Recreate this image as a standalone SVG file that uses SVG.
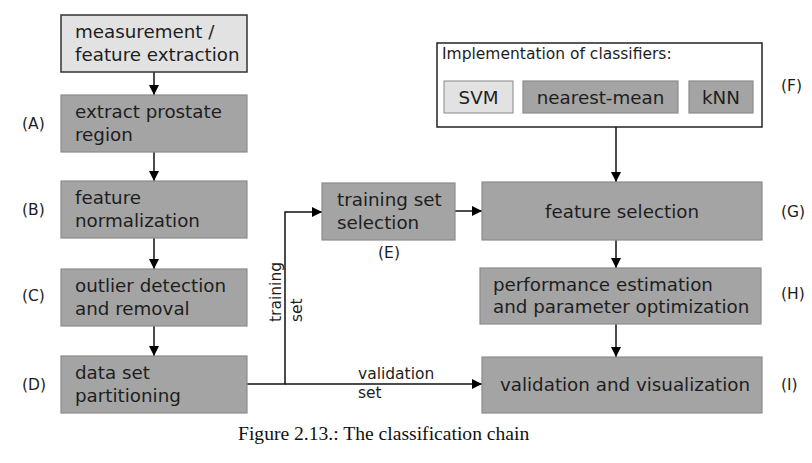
<svg xmlns="http://www.w3.org/2000/svg" width="812" height="463" viewBox="0 0 812 463">
<defs>
<style>
.box{fill:#a4a4a4;stroke:#8c8c8c;stroke-width:1.2}
.light{fill:#e2e2e2;stroke:#333;stroke-width:1.5}
.frame{fill:#fff;stroke:#222;stroke-width:1.5}
.lightsm{fill:#e2e2e2;stroke:#888;stroke-width:1}
.t{font-family:"DejaVu Sans",sans-serif;font-size:18.3px;fill:#1e1e1e}
.lbl{font-family:"DejaVu Sans",sans-serif;font-size:15.5px;fill:#1e1e1e}
.cap{font-family:"Liberation Serif",serif;font-size:19.6px;fill:#111}
.c{fill:none;stroke:#111;stroke-width:1.5}
</style>
<marker id="ah" viewBox="0 0 10 10" refX="10" refY="5" markerWidth="10" markerHeight="10" markerUnits="userSpaceOnUse" orient="auto">
<path d="M0,0 L10,5 L0,10 z" fill="#000"/>
</marker>
</defs>
<rect width="812" height="463" fill="#fff"/>

<g id="connectors">
<line class="c" x1="154" y1="72" x2="154" y2="95" marker-end="url(#ah)"/>
<line class="c" x1="154" y1="152" x2="154" y2="181" marker-end="url(#ah)"/>
<line class="c" x1="154" y1="238" x2="154" y2="269" marker-end="url(#ah)"/>
<line class="c" x1="154" y1="326" x2="154" y2="356" marker-end="url(#ah)"/>
<polyline class="c" points="247,384 285,384 285,212 322,212" marker-end="url(#ah)"/>
<line class="c" x1="285" y1="384" x2="482" y2="384" marker-end="url(#ah)"/>
<line class="c" x1="455" y1="211" x2="482" y2="211" marker-end="url(#ah)"/>
<line class="c" x1="616" y1="127" x2="616" y2="182" marker-end="url(#ah)"/>
<line class="c" x1="616" y1="240" x2="616" y2="268" marker-end="url(#ah)"/>
<line class="c" x1="616" y1="324" x2="616" y2="357" marker-end="url(#ah)"/>
<text class="lbl" transform="translate(281,322) rotate(-90)">training</text>
<text class="lbl" transform="translate(301.5,322) rotate(-90)">set</text>
<text class="lbl" x="358" y="379">validation</text>
<text class="lbl" x="358" y="398">set</text>
</g>

<g id="measurement">
<rect class="light" x="61" y="15" width="186" height="57"/>
<text class="t" x="75" y="37.5">measurement /</text>
<text class="t" x="75" y="60.5">feature extraction</text>
</g>

<g id="nodeA">
<rect class="box" x="61" y="95" width="186" height="57"/>
<text class="t" x="75" y="117.5">extract prostate</text>
<text class="t" x="75" y="140.5">region</text>
<text class="lbl" x="22" y="129">(A)</text>
</g>

<g id="nodeB">
<rect class="box" x="61" y="181" width="186" height="57"/>
<text class="t" x="75" y="203.5">feature</text>
<text class="t" x="75" y="226.5">normalization</text>
<text class="lbl" x="22" y="215">(B)</text>
</g>

<g id="nodeC">
<rect class="box" x="61" y="269" width="186" height="57"/>
<text class="t" x="75" y="291.5">outlier detection</text>
<text class="t" x="75" y="314.5">and removal</text>
<text class="lbl" x="22" y="301">(C)</text>
</g>

<g id="nodeD">
<rect class="box" x="61" y="356" width="186" height="57"/>
<text class="t" x="75" y="378.5">data set</text>
<text class="t" x="75" y="401.5">partitioning</text>
<text class="lbl" x="22" y="390">(D)</text>
</g>

<g id="nodeE">
<rect class="box" x="322" y="183" width="133" height="57"/>
<text class="t" x="337" y="205.5">training set</text>
<text class="t" x="337" y="228.5">selection</text>
<text class="lbl" x="389" y="258" text-anchor="middle">(E)</text>
</g>

<g id="nodeF">
<rect class="frame" x="437" y="43" width="325" height="84"/>
<text class="lbl" x="442" y="59">Implementation of classifiers:</text>
<rect class="lightsm" x="444" y="81" width="69" height="32"/>
<text class="t" x="478.5" y="103.5" text-anchor="middle">SVM</text>
<rect class="box" x="523" y="81" width="155" height="32"/>
<text class="t" x="600.5" y="103.5" text-anchor="middle">nearest-mean</text>
<rect class="box" x="689" y="81" width="64" height="32"/>
<text class="t" x="721" y="103.5" text-anchor="middle">kNN</text>
<text class="lbl" x="781" y="91">(F)</text>
</g>

<g id="nodeG">
<rect class="box" x="482" y="182" width="280" height="58"/>
<text class="t" x="622" y="217.5" text-anchor="middle">feature selection</text>
<text class="lbl" x="781" y="217">(G)</text>
</g>

<g id="nodeH">
<rect class="box" x="480" y="268" width="281" height="56"/>
<text class="t" x="493" y="290.5">performance estimation</text>
<text class="t" x="493" y="313">and parameter optimization</text>
<text class="lbl" x="781" y="299">(H)</text>
</g>

<g id="nodeI">
<rect class="box" x="482" y="357" width="280" height="56"/>
<text class="t" x="625" y="390.5" text-anchor="middle">validation and visualization</text>
<text class="lbl" x="781" y="390">(I)</text>
</g>

<text class="cap" x="238" y="440">Figure 2.13.: The classification chain</text>
</svg>
